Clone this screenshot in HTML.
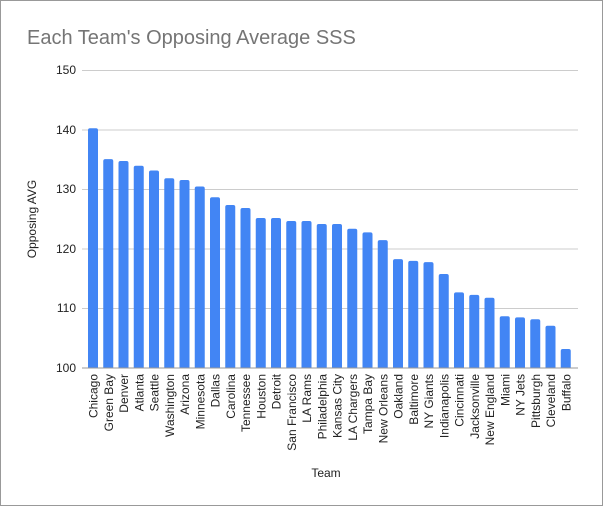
<!DOCTYPE html><html><head><style>body{margin:0;background:#fff}svg{display:block}</style></head><body>
<svg width="603" height="506" xmlns="http://www.w3.org/2000/svg" font-family="Liberation Sans, Arial, sans-serif">
<rect x="0.5" y="0.5" width="602" height="505" fill="#fff" stroke="#999"/>
<text x="27" y="44" font-size="20" fill="#757575">Each Team's Opposing Average SSS</text>
<g stroke="#ccc" stroke-width="1">
<line x1="82" x2="578" y1="70.5" y2="70.5"/><line x1="82" x2="578" y1="130" y2="130"/><line x1="82" x2="578" y1="189.5" y2="189.5"/><line x1="82" x2="578" y1="249" y2="249"/><line x1="82" x2="578" y1="308.5" y2="308.5"/>
</g>
<g font-size="12" fill="#222" text-anchor="end">
<text x="76" y="74">150</text><text x="76" y="134">140</text><text x="76" y="193">130</text><text x="76" y="253">120</text><text x="76" y="312">110</text><text x="76" y="372">100</text>
</g>
<text transform="translate(36,219) rotate(-90)" font-size="12" fill="#222" text-anchor="middle">Opposing AVG</text>
<text x="326" y="477" font-size="12" fill="#222" text-anchor="middle">Team</text>
<g id="bars" fill="#4285f4"></g>
<line x1="82" x2="578" y1="368" y2="368" stroke="#999"/>
<g id="labels" font-size="12" fill="#222" text-anchor="end"></g>
<script>
var d=[["Chicago",140.3],["Green Bay",135.1],["Denver",134.8],["Atlanta",134],["Seattle",133.2],["Washington",131.9],["Arizona",131.6],["Minnesota",130.5],["Dallas",128.7],["Carolina",127.4],["Tennessee",126.9],["Houston",125.2],["Detroit",125.2],["San Francisco",124.7],["LA Rams",124.7],["Philadelphia",124.2],["Kansas City",124.2],["LA Chargers",123.4],["Tampa Bay",122.8],["New Orleans",121.5],["Oakland",118.3],["Baltimore",118],["NY Giants",117.8],["Indianapolis",115.8],["Cincinnati",112.7],["Jacksonville",112.3],["New England",111.8],["Miami",108.7],["NY Jets",108.5],["Pittsburgh",108.2],["Cleveland",107.1],["Buffalo",103.2]];
var b=document.getElementById("bars"),l=document.getElementById("labels"),ns="http://www.w3.org/2000/svg";
d.forEach(function(e,i){var x=88+i*15.25,y=368-(e[1]-100)*5.95;
var r=document.createElementNS(ns,"path");r.setAttribute("d","M"+x+",368V"+(y+2)+"q0,-2 2,-2h6q2,0 2,2V368z");b.appendChild(r);
var t=document.createElementNS(ns,"text");t.setAttribute("transform","translate("+(x+9.5)+",374) rotate(-90)");t.textContent=e[0];l.appendChild(t);});
</script>
</svg></body></html>
